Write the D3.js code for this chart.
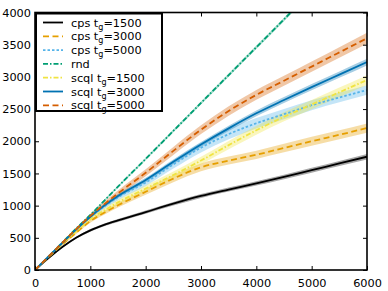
<!DOCTYPE html>
<html>
<head>
    <meta charset="utf-8">
    <script src="https://cdn.jsdelivr.net/npm/d3@7"></script>
    <style>
        body { margin: 0; background: #fff; }
        text { font-family: "DejaVu Sans", sans-serif; }
    </style>
</head>
<body>
<script>
    // sample points along the x axis
    var steps = [0, 250, 500, 750, 1000, 1250, 1500, 2000, 2500, 3000, 3500, 4000, 4500, 5000, 5500, 6000];

    // mean curves
    var cps1500  = [0, 190, 360, 505, 615, 700, 770, 900, 1030, 1150, 1250, 1346, 1445, 1550, 1655, 1760];
    var cps3000  = [0, 205, 400, 585, 760, 890, 1005, 1215, 1420, 1595, 1700, 1790, 1895, 2000, 2100, 2205];
    var cps5000  = [0, 215, 425, 630, 825, 985, 1130, 1360, 1640, 1900, 2110, 2280, 2420, 2560, 2680, 2796];
    var rnd      = [0, 216, 432, 649, 855, 1075, 1295, 1725, 2160, 2595, 3028, 3460, 3893, 4325, 4758, 5190];
    var scql1500 = [0, 210, 415, 605, 790, 925, 1050, 1265, 1475, 1700, 1940, 2170, 2380, 2570, 2760, 2951];
    var scql3000 = [0, 215, 425, 635, 828, 1000, 1150, 1398, 1680, 1950, 2200, 2434, 2640, 2840, 3035, 3230];
    var scql5000 = [0, 215, 430, 640, 840, 1020, 1190, 1510, 1850, 2180, 2470, 2720, 2940, 3160, 3380, 3600];

    // half width of the shaded spread
    var cps1500Sd  = [0, 5, 10, 15, 20, 22, 24, 26, 28, 30, 32, 34, 36, 38, 40, 42];
    var cps3000Sd  = [0, 8, 15, 20, 25, 30, 35, 45, 55, 60, 62, 64, 66, 68, 70, 72];
    var cps5000Sd  = [0, 8, 15, 22, 30, 38, 45, 55, 65, 75, 80, 80, 80, 78, 76, 75];
    var rndSd      = [0, 5, 10, 12, 15, 17, 18, 20, 22, 24, 25, 26, 27, 28, 29, 30];
    var scql1500Sd = [0, 8, 15, 22, 30, 35, 40, 48, 55, 60, 65, 68, 70, 72, 74, 76];
    var scql3000Sd = [0, 6, 12, 18, 25, 28, 30, 34, 38, 40, 42, 44, 46, 48, 50, 52];
    var scql5000Sd = [0, 8, 15, 22, 30, 38, 45, 55, 62, 68, 72, 76, 78, 80, 82, 84];

    var xTicks = [0, 1000, 2000, 3000, 4000, 5000, 6000];
    var yTicks = [0, 500, 1000, 1500, 2000, 2500, 3000, 3500, 4000];

    var series = [
        { name: "cps",  tg: "1500", mean: cps1500,  sd: cps1500Sd,  color: "#000000", dash: null },
        { name: "cps",  tg: "3000", mean: cps3000,  sd: cps3000Sd,  color: "#E69F00", dash: "6,3.5" },
        { name: "cps",  tg: "5000", mean: cps5000,  sd: cps5000Sd,  color: "#56B4E9", dash: "2.5,2" },
        { name: "rnd",  tg: null,   mean: rnd,      sd: rndSd,      color: "#009E73", dash: "5,2,1.5,2" },
        { name: "scql", tg: "1500", mean: scql1500, sd: scql1500Sd, color: "#F0E442", dash: "5,2,1.5,2" },
        { name: "scql", tg: "3000", mean: scql3000, sd: scql3000Sd, color: "#0072B2", dash: null },
        { name: "scql", tg: "5000", mean: scql5000, sd: scql5000Sd, color: "#D55E00", dash: "6,3.5" }
    ];

    var width = 388;
    var height = 291;
    var plotL = 35, plotR = 367, plotT = 12.5, plotB = 270;

    var svg = d3.select("body")
        .append("svg")
        .attr("width", width)
        .attr("height", height);

    var x = d3.scaleLinear().domain([0, 6000]).range([plotL, plotR]);
    var y = d3.scaleLinear().domain([0, 4000]).range([plotB, plotT]);

    svg.append("clipPath")
        .attr("id", "plot")
        .append("rect")
        .attr("x", plotL).attr("y", plotT)
        .attr("width", plotR - plotL).attr("height", plotB - plotT);

    var g = svg.append("g").attr("clip-path", "url(#plot)");

    var band = d3.area()
        .x(function (d) { return x(d.x); })
        .y0(function (d) { return y(d.m - d.s); })
        .y1(function (d) { return y(d.m + d.s); })
        .curve(d3.curveMonotoneX);

    var line = d3.line()
        .x(function (d) { return x(d.x); })
        .y(function (d) { return y(d.m); })
        .curve(d3.curveMonotoneX);

    series.forEach(function (s) {
        s.points = steps.map(function (t, i) { return { x: t, m: s.mean[i], s: s.sd[i] }; });
    });

    series.forEach(function (s) {
        g.append("path")
            .attr("d", band(s.points))
            .attr("fill", s.color)
            .attr("fill-opacity", 0.35)
            .attr("stroke", "none");
    });

    series.forEach(function (s) {
        g.append("path")
            .attr("d", line(s.points))
            .attr("fill", "none")
            .attr("stroke", s.color)
            .attr("stroke-width", 1.8)
            .attr("stroke-dasharray", s.dash);
    });

    // axes with inward ticks on all four sides
    var fmt = d3.format("d");
    var xb = svg.append("g").attr("transform", "translate(0," + plotB + ")")
        .call(d3.axisBottom(x).tickValues(xTicks).tickSize(-4).tickPadding(6).tickFormat(fmt));
    var xt = svg.append("g").attr("transform", "translate(0," + plotT + ")")
        .call(d3.axisTop(x).tickValues(xTicks).tickSize(-4).tickFormat(""));
    var yl = svg.append("g").attr("transform", "translate(" + plotL + ",0)")
        .call(d3.axisLeft(y).tickValues(yTicks).tickSize(-4).tickPadding(4).tickFormat(fmt));
    var yr = svg.append("g").attr("transform", "translate(" + plotR + ",0)")
        .call(d3.axisRight(y).tickValues(yTicks).tickSize(-4).tickFormat(""));

    [xb, xt, yl, yr].forEach(function (a) {
        a.select(".domain").remove();
        a.selectAll("line").attr("stroke", "#000").attr("stroke-width", 1);
        a.selectAll("text").attr("font-size", 11.3).attr("fill", "#000")
            .attr("font-family", "DejaVu Sans, sans-serif");
    });
    xb.selectAll("text").attr("dy", "0.95em");

    svg.append("rect")
        .attr("x", plotL).attr("y", plotT)
        .attr("width", plotR - plotL).attr("height", plotB - plotT)
        .attr("fill", "none")
        .attr("stroke", "#000")
        .attr("stroke-width", 1.6);

    // legend
    var lg = svg.append("g");
    lg.append("rect")
        .attr("x", 36).attr("y", 13.5)
        .attr("width", 126).attr("height", 97.5)
        .attr("fill", "#fff")
        .attr("stroke", "#000")
        .attr("stroke-width", 2);

    series.forEach(function (s, i) {
        var yy = 22.5 + i * 13.8;
        lg.append("line")
            .attr("x1", 43).attr("x2", 63)
            .attr("y1", yy).attr("y2", yy)
            .attr("stroke", s.color)
            .attr("stroke-width", 1.8)
            .attr("stroke-dasharray", s.dash);
        var t = lg.append("text")
            .attr("x", 71).attr("y", yy + 4)
            .attr("font-size", 11.3)
            .attr("fill", "#000");
        if (s.tg) {
            t.append("tspan").text(s.name + " t");
            t.append("tspan").attr("font-size", 8).attr("dy", 3).text("g");
            t.append("tspan").attr("dy", -3).text("=" + s.tg);
        } else {
            t.text(s.name);
        }
    });
</script>
</body>
</html>
